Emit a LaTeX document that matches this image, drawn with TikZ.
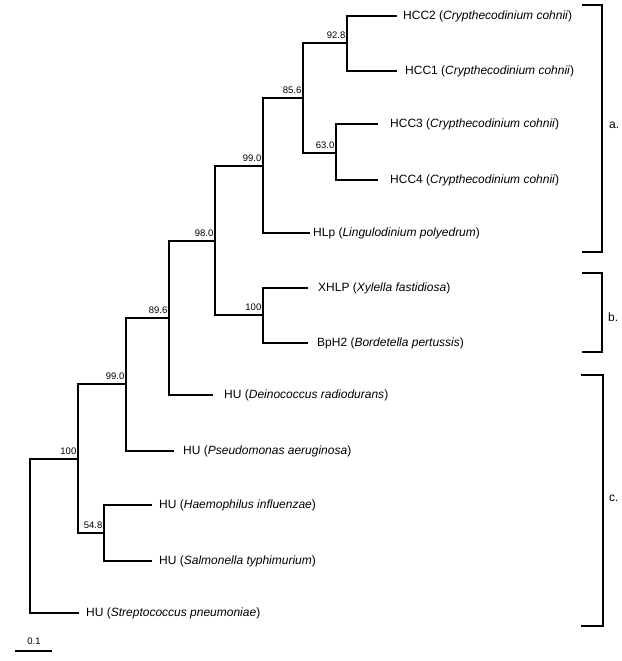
\documentclass[tikz,border=0pt]{standalone}
\usepackage{fontspec}
\setmainfont{Liberation Sans}
\usetikzlibrary{calc, positioning}

\begin{document}
\begin{tikzpicture}[x=1pt, y=-1pt,
    branch/.style={line width=2.7pt, line join=miter},
    taxon/.style={anchor=west, inner sep=0pt, font=\fontsize{12}{14}\selectfont},
    support/.style={anchor=south east, inner xsep=1.5pt, inner ysep=4pt, font=\fontsize{9.5}{10}\selectfont},
    clade/.style={line width=1.4pt},
    cladename/.style={anchor=west, inner sep=0pt, font=\fontsize{12}{14}\selectfont}]

    \useasboundingbox (0,0) rectangle (621,661);

    % 1. Nút trong của cây (vị trí nhánh dọc)
    \coordinate (root) at (30,536);
    \coordinate (nA) at (78,459);
    \coordinate (nB) at (126,384);
    \coordinate (nC) at (169,318);
    \coordinate (nD) at (215,241);
    \coordinate (nE) at (263,166);
    \coordinate (nF) at (263,315);
    \coordinate (nG) at (303,98);
    \coordinate (nH) at (347,43);
    \coordinate (nI) at (336,153);
    \coordinate (nJ) at (104,533);

    % 2. Tên các trình tự (lá)
    \node[taxon] (hcc2) at (403,16) {HCC2 (\textit{Crypthecodinium cohnii})};
    \node[taxon] (hcc1) at (405,71) {HCC1 (\textit{Crypthecodinium cohnii})};
    \node[taxon] (hcc3) at (390,124) {HCC3 (\textit{Crypthecodinium cohnii})};
    \node[taxon] (hcc4) at (390,180) {HCC4 (\textit{Crypthecodinium cohnii})};
    \node[taxon] (hlp) at (313,233) {HLp (\textit{Lingulodinium polyedrum})};
    \node[taxon] (xhlp) at (318,288) {XHLP (\textit{Xylella fastidiosa})};
    \node[taxon] (bph2) at (317,343) {BpH2 (\textit{Bordetella pertussis})};
    \node[taxon] (deino) at (224,395) {HU (\textit{Deinococcus radiodurans})};
    \node[taxon] (pseudo) at (183,451) {HU (\textit{Pseudomonas aeruginosa})};
    \node[taxon] (haemo) at (159,505) {HU (\textit{Haemophilus influenzae})};
    \node[taxon] (salmo) at (159,561) {HU (\textit{Salmonella typhimurium})};
    \node[taxon] (strepto) at (86,613) {HU (\textit{Streptococcus pneumoniae})};

    % 3. Các nhánh
    \draw[branch] (root) |- (nA);
    \draw[branch] (root) |- ([xshift=-7pt]strepto.west);
    \draw[branch] (nA) |- (nB);
    \draw[branch] (nA) |- (nJ);
    \draw[branch] (nJ) |- ([xshift=-7pt]haemo.west);
    \draw[branch] (nJ) |- ([xshift=-7pt]salmo.west);
    \draw[branch] (nB) |- (nC);
    \draw[branch] (nB) |- ([xshift=-9pt]pseudo.west);
    \draw[branch] (nC) |- (nD);
    \draw[branch] (nC) |- ([xshift=-11pt]deino.west);
    \draw[branch] (nD) |- (nE);
    \draw[branch] (nD) |- (nF);
    \draw[branch] (nF) |- ([xshift=-10pt]xhlp.west);
    \draw[branch] (nF) |- ([xshift=-9pt]bph2.west);
    \draw[branch] (nE) |- (nG);
    \draw[branch] (nE) |- ([xshift=-3pt]hlp.west);
    \draw[branch] (nG) |- (nH);
    \draw[branch] (nG) |- (nI);
    \draw[branch] (nH) |- ([xshift=-6pt]hcc2.west);
    \draw[branch] (nH) |- ([xshift=-8pt]hcc1.west);
    \draw[branch] (nI) |- ([xshift=-12pt]hcc3.west);
    \draw[branch] (nI) |- ([xshift=-12pt]hcc4.west);

    % 4. Giá trị bootstrap
    \node[support] (bA) at (nA) {100};
    \node[support] (bB) at (nB) {99.0};
    \node[support] (bC) at (nC) {89.6};
    \node[support] (bD) at (nD) {98.0};
    \node[support] (bE) at (nE) {99.0};
    \node[support] (bF) at (nF) {100};
    \node[support] (bG) at (nG) {85.6};
    \node[support] (bH) at (nH) {92.8};
    \node[support] (bI) at (nI) {63.0};
    \node[support] (bJ) at (nJ) {54.8};

    % 5. Ngoặc nhóm a., b., c.
    \draw[clade] (582,5) -- (602,5) -- (602,252) -- (582,252);
    \draw[clade] (582,273) -- (602,273) -- (602,352) -- (582,352);
    \draw[clade] (581,375) -- (603,375) -- (603,626) -- (581,626);
    \node[cladename] (ga) at (609,125) {a.};
    \node[cladename] (gb) at (608,317) {b.};
    \node[cladename] (gc) at (609,498) {c.};

    % 6. Thước tỉ lệ
    \coordinate (sb0) at (15,651);
    \coordinate (sb1) at (52,651);
    \draw[branch] (sb0) -- (sb1);
    \node[font=\fontsize{9.5}{10}\selectfont, inner sep=0pt] (sbl) at (34,641) {0.1};
\end{tikzpicture}
\end{document}
